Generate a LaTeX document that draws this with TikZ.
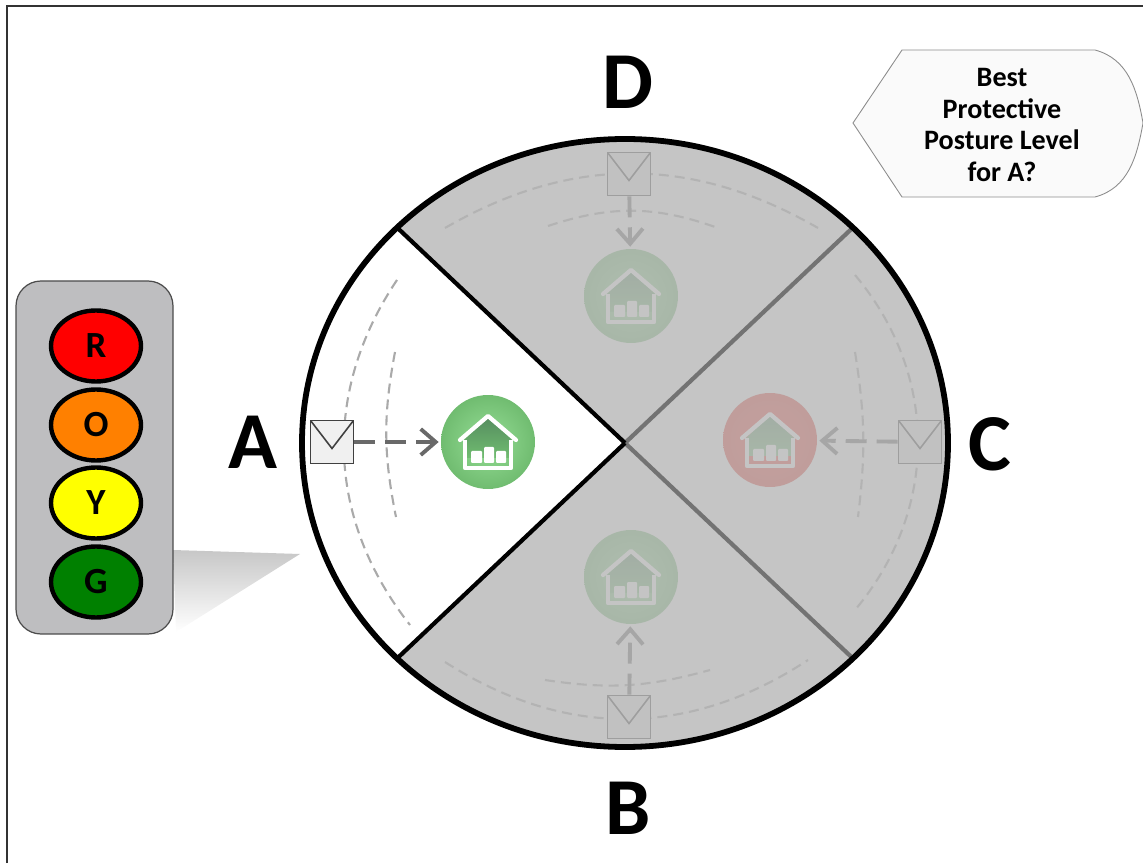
\documentclass[tikz,border=0pt]{standalone}
\usepackage{fontspec}
\setmainfont{Carlito}
\usetikzlibrary{arrows.meta,shapes.geometric}
\definecolor{panelgray}{RGB}{190,190,192}
\definecolor{veilgray}{RGB}{182,182,182}
\definecolor{edgegray}{RGB}{105,105,105}
\definecolor{dashgray}{RGB}{170,170,170}
\definecolor{ballgreen}{RGB}{150,222,150}
\definecolor{rimgreen}{RGB}{112,188,112}
\definecolor{roofgreen}{RGB}{85,140,95}
\definecolor{ballred}{RGB}{250,70,60}
\definecolor{rimred}{RGB}{232,60,50}
\definecolor{lampred}{RGB}{255,0,0}
\definecolor{lamporange}{RGB}{255,128,0}
\definecolor{lampyellow}{RGB}{255,255,0}
\definecolor{lampgreen}{RGB}{0,128,0}
\begin{document}
\begin{tikzpicture}[x=0.02cm,y=0.02cm]

\tikzset{letter/.style = {font=\fontsize{46}{46}\selectfont\bfseries,inner sep=0}}
\tikzset{lamp/.style = {shape=ellipse,draw,line width=2.5pt,minimum width=1.8cm,minimum height=1.42cm,inner sep=0,font=\fontsize{21}{21}\selectfont\bfseries}}
\tikzset{envelope/.style = {shape=rectangle,draw=black!75,fill=black!6,line width=0.9pt,minimum size=0.86cm,inner sep=0,
  path picture={\draw[black!75,line width=0.9pt] (path picture bounding box.north west) -- ([yshift=-0.56cm]path picture bounding box.north) -- (path picture bounding box.north east);}}}
\tikzset{ball/.style = {shape=circle,minimum size=1.88cm,inner sep=0}}
\tikzset{greenball/.style = {ball,inner color=ballgreen,outer color=rimgreen}}
\tikzset{redball/.style = {ball,inner color=ballred,outer color=rimred}}
\tikzset{edge/.style = {-{Straight Barb[length=0.3cm,width=0.52cm]},draw=edgegray,line width=2.2pt,dash pattern=on 0.42cm off 0.2cm,shorten >=0.04cm}}
\tikzset{arcline/.style = {draw=dashgray,line width=1.2pt,dash pattern=on 0.2cm off 0.12cm}}
\tikzset{homeicon/.pic = {
  \shade[top color=roofgreen,bottom color=rimgreen] (-24,2) -- (0,26) -- (24,2) -- (24,-16) -- (-24,-16) -- cycle;
  \draw[white,line width=2.4pt,line join=round,line cap=round] (-28,2) -- (0,26) -- (28,2);
  \draw[white,line width=2.4pt,line join=round] (-23,2) -- (-23,-26) -- (23,-26) -- (23,2);
  \fill[white,rounded corners=0.02cm] (-17,-21) rectangle (-6,-9);
  \fill[white,rounded corners=0.02cm] (-4,-21) rectangle (6,-5);
  \fill[white,rounded corners=0.02cm] (8,-21) rectangle (18,-9);
}}

\useasboundingbox (0,0) rectangle (1143,863);

% frame
\coordinate (frameA) at (7,857);
\coordinate (frameB) at (7,0);
\coordinate (frameC) at (1143,857);
\draw[black!80,line width=0.6pt] (frameB) -- (frameA) -- (frameC);

% shadow of the panel
\shade[top color=black!22,bottom color=white] (173,313) -- (300,309) -- (176,231) -- cycle;

% lamp panel
\draw[draw=black!70,fill=panelgray,line width=0.7pt,rounded corners=0.5cm] (16,229) rectangle (173,582);
\node[lamp,fill=lampred] (lampR) at (96,517) {R};
\node[lamp,fill=lamporange] (lampO) at (96,438) {O};
\node[lamp,fill=lampyellow] (lampY) at (96,360) {Y};
\node[lamp,fill=lampgreen] (lampG) at (96,281) {G};

% callout
\draw[draw=black!45,line width=0.5pt,fill=black!2]
  (853,740) -- (902,813) -- (1095,813) to[out=-15,in=100] (1143,740) to[out=-100,in=15] (1095,666) -- (902,666) -- cycle;
\node[align=center,inner sep=0,font=\fontsize{16}{18.2}\selectfont\bfseries] (question) at (1002,738) {Best\\Protective\\Posture Level\\for A?};

% dashed arcs
\draw[arcline] (397,583) to[bend right=36] (410,238);
\draw[arcline] (395,511) to[bend right=11] (396,346);
\draw[arcline] (445,635) to[bend left=30] (818,635);
\draw[arcline] (548,637) to[bend left=19] (718,635);
\draw[arcline] (445,201) to[bend right=33] (808,203);
\draw[arcline] (545,183) to[bend right=12] (710,193);
\draw[arcline] (855,588) to[bend left=40] (855,253);
\draw[arcline] (855,511) to[bend left=8] (858,346);

% balls
\node[greenball] (homeA) at (488,421) {};
\node[greenball] (homeD) at (631,567) {};
\node[greenball] (homeB) at (631,286) {};
\node[redball] (homeC) at (770,423) {};
\pic at (homeA) {homeicon};
\pic at (homeD) {homeicon};
\pic at (homeB) {homeicon};
\pic at (homeC) {homeicon};

% envelopes
\node[envelope] (envA) at (332,421) {};
\node[envelope] (envD) at (629,689) {};
\node[envelope] (envB) at (629,146) {};
\node[envelope] (envC) at (920,421) {};

% edges
\draw[edge] (envA) to (homeA);
\draw[edge] (envD) to (homeD);
\draw[edge] (envB) to (homeB);
\draw[edge] (envC) to (homeC);

% veil and sector lines
\coordinate (centre) at (625,420);
\coordinate (rimUL) at (397.6,634.96);
\coordinate (rimUR) at (852.4,634.96);
\coordinate (rimLR) at (852.4,205.04);
\coordinate (rimLL) at (397.6,205.04);
\fill[veilgray,fill opacity=0.8] (centre) -- (rimUL) arc[start angle=135,end angle=-135,x radius=323,y radius=304] -- cycle;
\draw[black!55,line width=2.4pt] (centre) -- (rimUR);
\draw[black!55,line width=2.4pt] (centre) -- (rimLR);
\draw[black,line width=2.4pt] (centre) -- (rimUL);
\draw[black,line width=2.4pt] (centre) -- (rimLL);
\draw[black,line width=3.3pt] (centre) ellipse[x radius=323,y radius=304];

% letters
\node[letter] (letterA) at (253,421) {A};
\node[letter] (letterB) at (628,55) {B};
\node[letter] (letterC) at (990,419) {C};
\node[letter] (letterD) at (628,781) {D};
\end{tikzpicture}
\end{document}
